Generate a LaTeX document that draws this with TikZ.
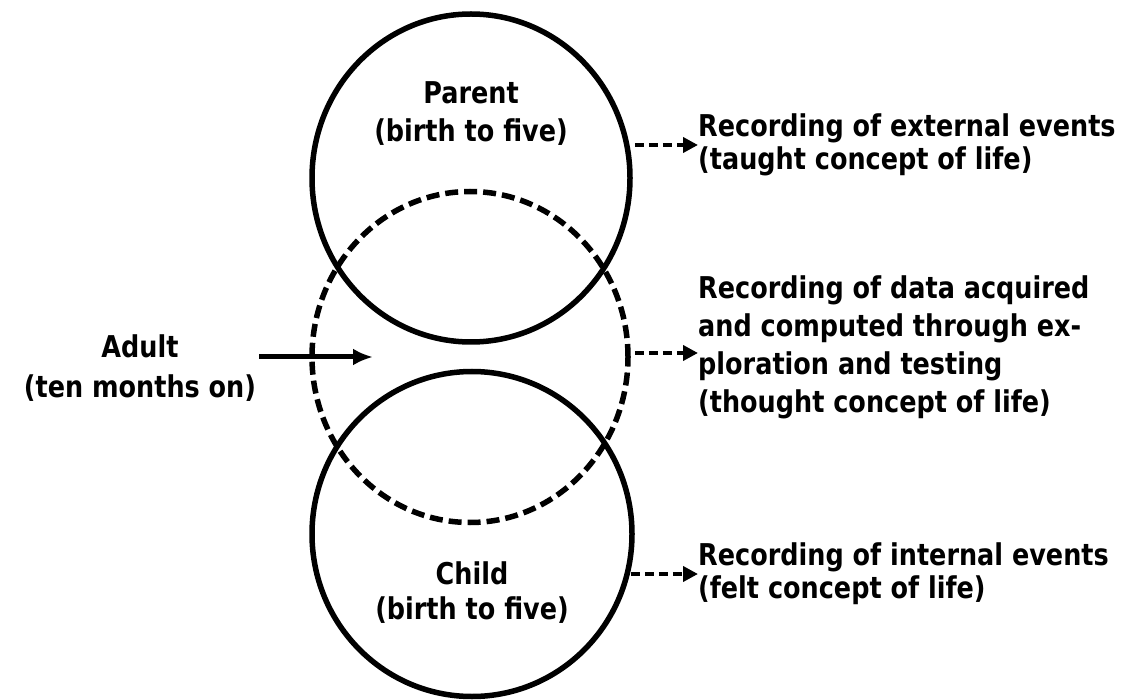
\documentclass[tikz,border=0pt]{standalone}
\usepackage{fontspec}
\setmainfont{DejaVu Sans}[FakeStretch=0.85]
\usetikzlibrary{arrows.meta,shapes.geometric}
\begin{document}
\begin{tikzpicture}[x=1pt,y=-1pt,
  ring/.style={draw, ellipse, line width=5.5pt, inner sep=0pt},
  adultring/.style={ring, dash pattern=on 13pt off 6pt},
  lbl/.style={inner sep=0pt, align=center},
  note/.style={inner sep=0pt, align=left, anchor=west},
  dasharrow/.style={line width=4.5pt, dash pattern=on 9pt off 5pt,
    -{Triangle[length=15pt,width=15pt]}},
  solidarrow/.style={line width=5pt, -{Latex[length=20pt,width=17pt]}}
]
\fill[white] (0,0) rectangle (1135,700);
\useasboundingbox (0,0) rectangle (1135,700);

% the three ego states
\node[ring, minimum width=318pt, minimum height=328pt] (parent) at (471,178) {};
\node[ring, minimum width=320pt, minimum height=325pt] (child) at (472,534) {};
\node[adultring, minimum width=316pt, minimum height=331pt] (adult) at (470,357) {};

% labels inside the circles
\node[lbl, font=\bfseries\fontsize{30}{38}\selectfont] (parentlbl) at (471,114)
  {Parent\\(birth to five)};
\node[lbl, font=\bfseries\fontsize{30}{35}\selectfont] (childlbl) at (472,593)
  {Child\\(birth to five)};

% adult label and its arrow
\node[lbl, font=\bfseries\fontsize{30}{40}\selectfont] (adultlbl) at (140,368)
  {Adult\\(ten months on)};
\coordinate (adultin) at (373,357);
\draw[solidarrow] (adultlbl.east |- adultin) ++(3,0) -- (adultin);

% recordings on the right
\node[note, font=\bfseries\fontsize{30}{33}\selectfont] (ext) at (698,145)
  {Recording of external events\\(taught concept of life)};
\node[note, font=\bfseries\fontsize{30}{38}\selectfont] (data) at (698,347)
  {Recording of data acquired\\and computed through ex-\\ploration and testing\\(thought concept of life)};
\node[note, font=\bfseries\fontsize{30}{33}\selectfont] (int) at (698,574)
  {Recording of internal events\\(felt concept of life)};

\draw[dasharrow] (parent.east |- ext.west) ++(2,0) -- (ext.west);
\draw[dasharrow] (adult.east |- adultin) ++(4,-4) -- ([yshift=-6pt]data.west);
\draw[dasharrow] (child.east |- int.west) ++(-4,0) -- (int.west);
\end{tikzpicture}
\end{document}
